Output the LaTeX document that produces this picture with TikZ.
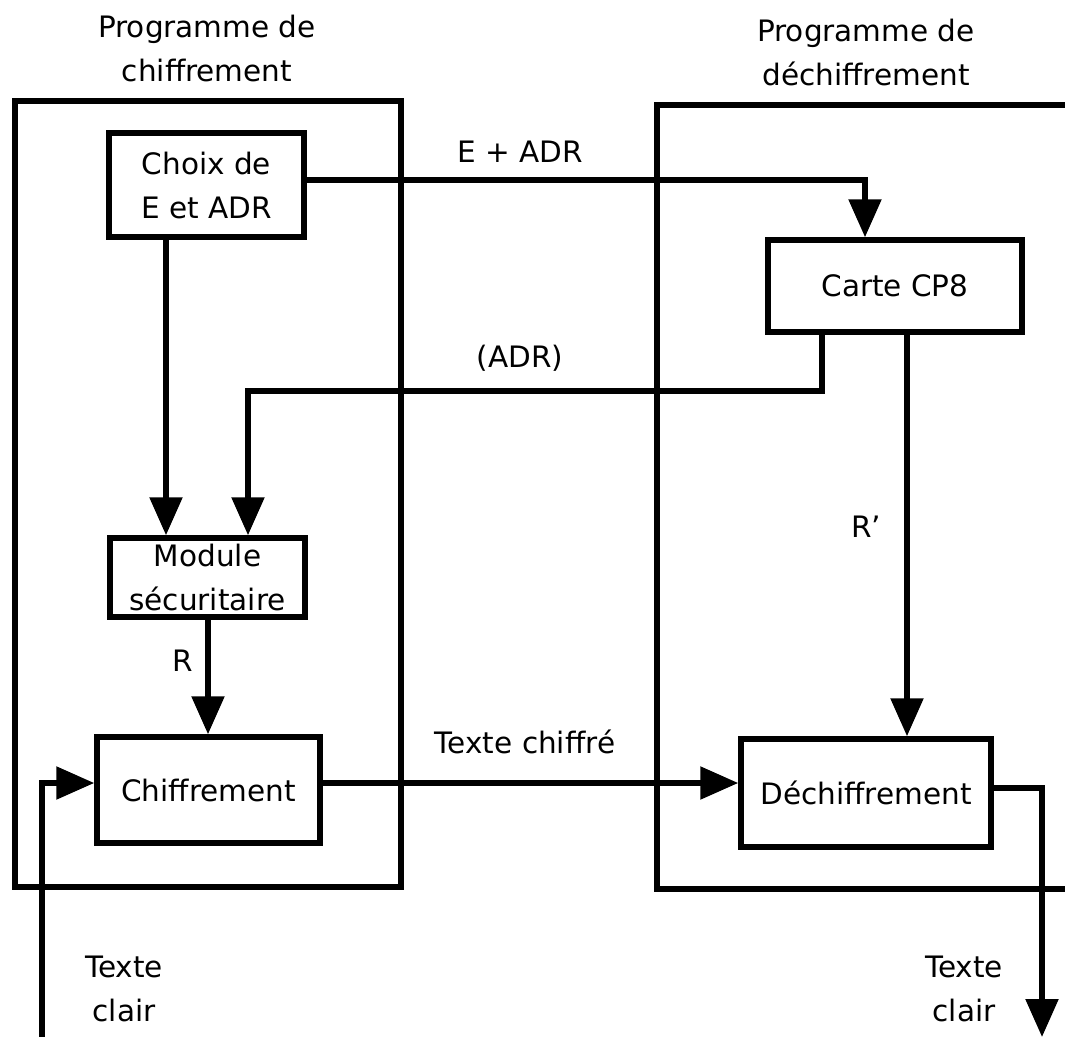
\documentclass[tikz,border=0pt]{standalone}
\usepackage{fontspec}
\setmainfont{DejaVu Sans}
\usetikzlibrary{arrows.meta}
\begin{document}
\begin{tikzpicture}[x=1pt,y=-1pt,
  every node/.style={font=\fontsize{29.5}{44}\selectfont, align=center, inner sep=0pt},
  frame/.style={line width=5.5pt},
  box/.style={draw, line width=5.5pt, rectangle, minimum width=#1},
  link/.style={line width=5.5pt, -{Triangle[length=38pt,width=32pt]}}]
\useasboundingbox (0,0) rectangle (1065,1036);
\begin{scope}
\clip (0,0) rectangle (1065,1036);
% outer program frames
\draw[frame] (15,101) rectangle (401,887);
\draw[frame] (1100,105) -- (657,105) -- (657,889) -- (1100,889);
% titles
\node (t1) at (207,49) {Programme de\\chiffrement};
\node (t2) at (866,53) {Programme de\\déchiffrement};
% blocks
\node[box=195pt, minimum height=104pt] (choix) at (206.5,185) {Choix de\\E et ADR};
\node[box=195pt, minimum height=79pt] (module) at (207.5,577.5) {Module\\sécuritaire};
\node[box=223pt, minimum height=106pt] (chif) at (208.5,790) {Chiffrement};
\node[box=254pt, minimum height=92pt] (carte) at (895,286) {Carte CP8};
\node[box=250pt, minimum height=108pt] (dech) at (866,793) {Déchiffrement};
% end points of the free connectors
\coordinate (inA) at (42,1040);
\coordinate (outB) at (1042,1037);
% connectors
\draw[link] (choix.east |- 0,180) -| (carte.north -| 865,0);
\draw[link] (choix.south -| 166,0) -- (module.north -| 166,0);
\draw[link] (carte.south -| 822,0) |- (248,391) -- (module.north -| 248,0);
\draw[link] (module.south -| 208,0) -- (chif.north -| 208,0);
\draw[link] (carte.south -| 907,0) -- (dech.north -| 907,0);
\draw[link] (inA) |- (chif.west |- 0,783);
\draw[link] (chif.east |- 0,783) -- (dech.west |- 0,783);
\draw[link] (dech.east |- 0,788) -| (outB);
% labels
\node (l1) at (520,152) {E + ADR};
\node (l2) at (520,358) {(ADR)};
\node (l3) at (183,661) {R};
\node (l4) at (866,527) {R'};
\node (l5) at (525,742) {Texte chiffré};
\node (l6) at (124,989) {Texte\\clair};
\node (l7) at (964,989) {Texte\\clair};
\end{scope}
\end{tikzpicture}
\end{document}
